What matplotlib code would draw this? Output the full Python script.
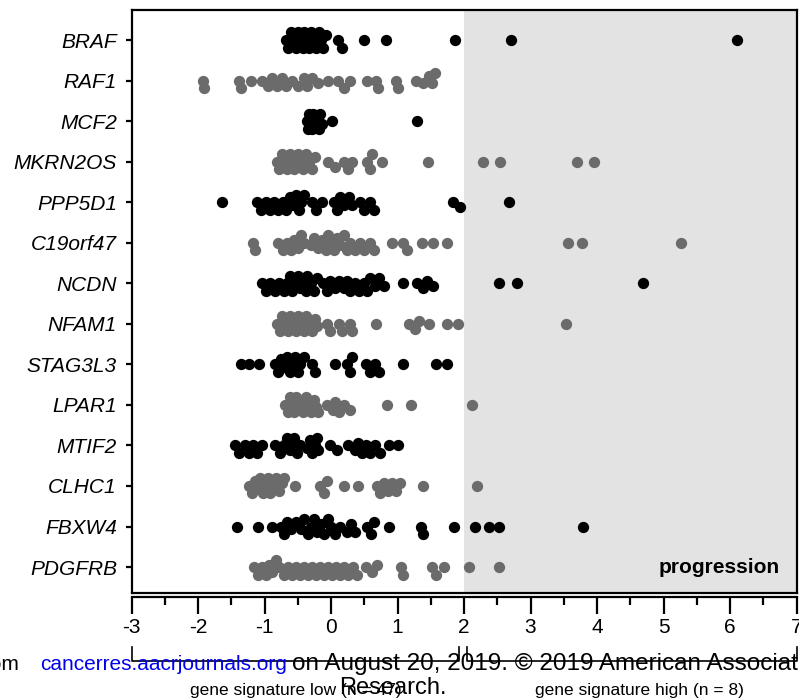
import numpy as np
import matplotlib
matplotlib.use("Agg")
import matplotlib.pyplot as plt
import matplotlib.transforms as mtransforms
from matplotlib.ticker import MultipleLocator

plt.rcParams['font.family'] = ['Liberation Sans', 'DejaVu Sans']

# ── data (one list per gene row) ─────────────────────────────────────────────
genes = ["BRAF", "RAF1", "MCF2", "MKRN2OS", "PPP5D1", "C19orf47", "NCDN",
         "NFAM1", "STAG3L3", "LPAR1", "MTIF2", "CLHC1", "FBXW4", "PDGFRB"]

BRAF = [-0.68, -0.64, -0.6, -0.55, -0.52, -0.5, -0.47, -0.45, -0.42, -0.4, -0.38,
        -0.36, -0.33, -0.3, -0.28, -0.25, -0.22, -0.18, -0.15, -0.12, -0.08,
        0.1, 0.17, 0.49, 0.83, 1.86, 2.71, 6.11]
RAF1 = [-1.93, -1.91, -1.38, -1.36, -1.2, -1.04, -0.95, -0.89, -0.81, -0.74, -0.68,
        -0.59, -0.49, -0.41, -0.36, -0.28, -0.19, -0.04, 0.11, 0.19, 0.29, 0.54,
        0.68, 0.7, 0.98, 1.0, 1.28, 1.39, 1.47, 1.52, 1.57]
MCF2 = [-0.36, -0.34, -0.33, -0.31, -0.3, -0.28, -0.27, -0.26, -0.24, -0.22,
        -0.2, -0.18, -0.16, -0.14, 0.02, 1.29]
MKRN2OS = [-0.81, -0.78, -0.74, -0.7, -0.66, -0.62, -0.58, -0.55, -0.5, -0.46,
           -0.42, -0.38, -0.33, -0.28, -0.24, -0.04, 0.06, 0.19, 0.25, 0.32, 0.54,
           0.58, 0.62, 0.77, 1.46, 2.28, 2.54, 3.7, 3.95]
PPP5D1 = [-1.64, -1.11, -1.05, -0.98, -0.92, -0.85, -0.8, -0.72, -0.67, -0.62,
          -0.57, -0.52, -0.48, -0.45, -0.41, -0.29, -0.22, -0.14, 0.04, 0.09,
          0.14, 0.2, 0.27, 0.32, 0.44, 0.5, 0.58, 0.64, 1.84, 1.94, 2.68]
C19orf47 = [-1.17, -1.14, -0.79, -0.72, -0.66, -0.6, -0.55, -0.5, -0.45, -0.41,
            -0.3, -0.26, -0.19, -0.14, -0.08, -0.04, 0.0, 0.05, 0.09, 0.14, 0.19,
            0.24, 0.29, 0.36, 0.44, 0.5, 0.58, 0.64, 0.92, 1.09, 1.14, 1.37,
            1.54, 1.74, 3.57, 3.77, 5.27]
NCDN = [-1.04, -0.97, -0.91, -0.84, -0.78, -0.71, -0.66, -0.62, -0.59, -0.55,
        -0.5, -0.46, -0.42, -0.38, -0.36, -0.3, -0.25, -0.21, -0.12, -0.06,
        -0.01, 0.06, 0.12, 0.19, 0.24, 0.29, 0.36, 0.42, 0.49, 0.54, 0.59, 0.66,
        0.72, 0.79, 1.08, 1.29, 1.38, 1.44, 1.54, 2.53, 2.8, 4.69]
NFAM1 = [-0.81, -0.77, -0.73, -0.69, -0.65, -0.61, -0.57, -0.53, -0.49, -0.45,
         -0.41, -0.37, -0.33, -0.28, -0.24, -0.21, -0.06, -0.01, 0.12, 0.16,
         0.28, 0.32, 0.67, 1.17, 1.27, 1.32, 1.47, 1.74, 1.91, 3.54]
STAG3L3 = [-1.36, -1.24, -1.09, -0.84, -0.8, -0.75, -0.7, -0.66, -0.62, -0.58,
           -0.54, -0.5, -0.46, -0.41, -0.29, -0.24, 0.06, 0.24, 0.28, 0.32, 0.52,
           0.59, 0.66, 0.72, 1.08, 1.58, 1.74]
LPAR1 = [-0.69, -0.65, -0.62, -0.58, -0.55, -0.52, -0.48, -0.45, -0.42, -0.38,
         -0.35, -0.3, -0.26, -0.22, -0.19, -0.06, 0.03, 0.06, 0.12, 0.2, 0.29,
         0.84, 1.21, 2.12]
MTIF2 = [-1.44, -1.38, -1.3, -1.24, -1.17, -1.11, -1.04, -0.84, -0.76, -0.71,
         -0.66, -0.62, -0.58, -0.55, -0.51, -0.47, -0.36, -0.32, -0.28, -0.24,
         -0.21, -0.19, -0.01, 0.09, 0.26, 0.36, 0.41, 0.47, 0.52, 0.59, 0.66,
         0.74, 0.87, 1.01]
CLHC1 = [-1.24, -1.19, -1.15, -1.11, -1.07, -1.03, -0.99, -0.95, -0.91, -0.87,
         -0.83, -0.78, -0.74, -0.71, -0.54, -0.16, -0.1, -0.06, 0.19, 0.4, 0.69,
         0.74, 0.8, 0.86, 0.92, 0.98, 1.04, 1.39, 2.2]
FBXW4 = [-1.41, -1.1, -0.89, -0.75, -0.71, -0.66, -0.6, -0.52, -0.45, -0.41,
         -0.35, -0.3, -0.25, -0.21, -0.15, -0.1, -0.05, 0.0, 0.06, 0.14, 0.24,
         0.3, 0.36, 0.54, 0.6, 0.64, 0.87, 1.36, 1.38, 1.85, 2.17, 2.37, 2.53,
         3.79]
PDGFRB = [-1.16, -1.1, -1.04, -0.98, -0.93, -0.88, -0.83, -0.78, -0.71, -0.64,
          -0.58, -0.52, -0.46, -0.4, -0.34, -0.28, -0.22, -0.16, -0.1, -0.04,
          0.02, 0.08, 0.14, 0.2, 0.26, 0.33, 0.39, 0.52, 0.62, 0.69, 1.05, 1.08,
          1.52, 1.58, 1.7, 2.08, 2.53]

rows = [BRAF, RAF1, MCF2, MKRN2OS, PPP5D1, C19orf47, NCDN,
        NFAM1, STAG3L3, LPAR1, MTIF2, CLHC1, FBXW4, PDGFRB]

x_ticks = [-3, -2, -1, 0, 1, 2, 3, 4, 5, 6, 7]
cutoff = 2
low_label = "gene signature low (n = 47)"
high_label = "gene signature high (n = 8)"

W, H = 799, 699
PX_PER_UNIT = 665 / 10.0
PX_PER_ROW = 40.5


def swarm_offsets(vals, diam=7.5, step=2.5, max_off=7.5):
    """Greedy beeswarm: vertical pixel offset per point so dots overlap less."""
    vals = np.asarray(vals, dtype=float)
    cands = [0.0]
    k = 1
    while k * step <= max_off:
        cands += [k * step, -k * step]
        k += 1
    placed, offs = [], np.zeros(len(vals))
    for i in np.argsort(vals):
        x = vals[i] * PX_PER_UNIT
        best, best_d = 0.0, -1.0
        for c in cands:
            d = min((np.hypot(x - px, c - py) for px, py in placed), default=np.inf)
            if d >= diam:
                best = c
                break
            if d > best_d:
                best, best_d = c, d
        placed.append((x, best))
        offs[i] = best
    return offs


fig = plt.figure(figsize=(W / 100, H / 100), dpi=100)
ax = fig.add_axes([131.5 / W, (H - 593) / H, 665 / W, 583 / H])

ax.axvspan(cutoff, 7, color="#e3e3e3", zorder=0, lw=0)

for i, vals in enumerate(rows):
    color = "black" if i % 2 == 0 else "#6b6b6b"
    y = i + swarm_offsets(vals) / PX_PER_ROW
    ax.scatter(vals, y, s=66, c=color, linewidths=0, zorder=3)

for s in ax.spines.values():
    s.set_linewidth(1.6)
ax.spines["bottom"].set_position(("outward", 3))
# frame line at the bottom of the plotting box (bottom spine is offset below it)
ax.plot([0, 1], [0, 0], transform=ax.transAxes, color="black", lw=1.6,
        clip_on=False, zorder=5)

ax.set_xlim(-3, 7)
ax.set_ylim(len(genes) - 1 + 0.64, -0.74)
ax.set_yticks(range(len(genes)))
ax.set_yticklabels(genes, fontstyle="italic")
ax.set_xticks(x_ticks)
ax.set_xticklabels([str(t) for t in x_ticks])
ax.xaxis.set_minor_locator(MultipleLocator(0.5))

ax.tick_params(axis="x", which="major", direction="out", length=12, width=1.6,
               pad=3, labelsize=15)
ax.tick_params(axis="x", which="minor", direction="out", length=6, width=1.6)
ax.tick_params(axis="y", direction="out", length=4.5, width=1.6, pad=6, labelsize=15)

ax.text(6.75, 13, "progression", fontsize=15, fontweight="bold",
        ha="right", va="center", zorder=4)

# brackets under the axis for the two signature groups
tr = mtransforms.blended_transform_factory(ax.transData, fig.transFigure)
y_line, y_top = 1 - 661 / H, 1 - 647 / H
for x0, x1 in [(-3, 1.93), (2.04, 7)]:
    ax.plot([x0, x0, x1, x1], [y_top, y_line, y_line, y_top], color="black",
            lw=1.2, transform=tr, clip_on=False)
fig.text(296 / W, 1 - 690 / H, low_label, fontsize=12.5, ha="center", va="center")
fig.text(639 / W, 1 - 690 / H, high_label, fontsize=12.5, ha="center", va="center")

# download watermark stamped across the bottom of the reference
y_wm = 1 - 664 / H
fig.text(25 / W, y_wm, "Downloaded from ", fontsize=15, ha="right", va="center")
fig.text(40 / W, y_wm, "cancerres.aacrjournals.org", fontsize=15, color="#0000ee",
         ha="left", va="center")
fig.text(292 / W, y_wm, "on August 20, 2019. \u00a9 2019 American Association for Cancer",
         fontsize=17.5, ha="left", va="center")
fig.text(393 / W, 1 - 688 / H, "Research.", fontsize=17, ha="center", va="center")

fig.savefig("out.png", dpi=100)
